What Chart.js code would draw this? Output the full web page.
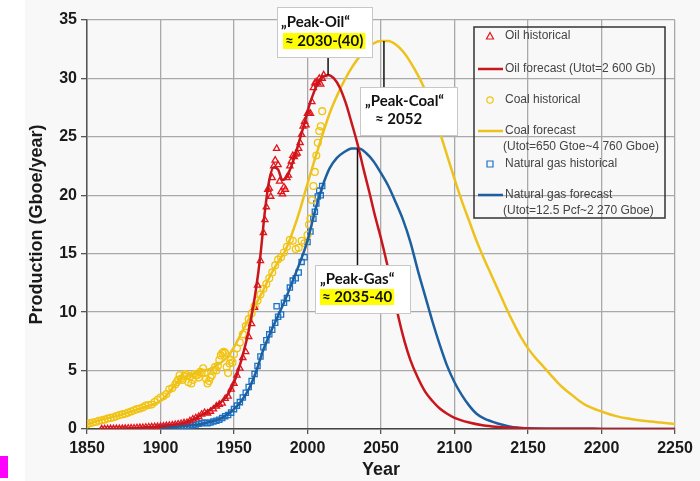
<!DOCTYPE html>
<html>
<head>
<meta charset="utf-8">
<script src="https://cdn.jsdelivr.net/npm/chart.js@4.4.1/dist/chart.umd.min.js"></script>
<style>
  body { margin: 0; background: #fff; }
  #wrap { position: relative; width: 700px; height: 481px; }
  #mark { position: absolute; left: 0; top: 456px; width: 8px; height: 22px; background: #ff00ff; }
</style>
</head>
<body>
<div id="wrap">
  <canvas id="chart" width="700" height="481"></canvas>
  <div id="mark"></div>
</div>
<script>
// historical production (Gboe/year)
const oilHistYears = [1860,1862,1864,1866,1868,1870,1872,1874,1876,1878,1880,1882,1884,1886,1888,1890,1892,1894,1896,1898,
  1900,1902,1904,1906,1908,1910,1912,1914,1916,1918,1920,1922,1924,1926,1928,1930,1932,1934,1936,1938,
  1940,1942,1944,1946,1948,1950,1952,1954,1956,1958,1960,1962,1964,1966,1968,1970,1971,1972,1973,1974,
  1975,1976,1977,1978,1979,1980,1981,1982,1983,1984,1985,1986,1987,1988,1989,1990,1991,1992,1993,1994,
  1995,1996,1997,1998,1999,2000,2001,2002,2003,2004,2005,2006,2007,2008,2009,2010,2011];
const oilHistValues = [0,0.01,0.01,0.02,0.02,0.03,0.03,0.04,0.05,0.06,0.07,0.08,0.1,0.11,0.12,0.14,0.16,0.17,0.19,0.2,
  0.22,0.25,0.28,0.3,0.34,0.38,0.42,0.46,0.52,0.55,0.7,0.85,0.95,1.05,1.25,1.4,1.35,1.5,1.7,1.95,
  2.1,2.2,2.6,2.8,3.4,3.9,4.6,5.2,6.1,6.6,7.9,9.0,10.4,12.3,14.4,16.8,17.9,19.0,20.5,20.6,
  19.9,21.5,22.5,23.0,24.0,22.6,21.2,20.3,20.1,20.7,20.5,21.5,21.7,22.5,22.9,23.4,23.3,23.5,23.6,24.0,
  24.5,25.2,25.9,26.3,26.0,27.0,27.0,27.0,28.0,29.2,29.6,29.7,29.6,30.0,29.5,30.0,30.3];

const coalHistYears = [1850,1852,1854,1856,1858,1860,1862,1864,1866,1868,1870,1872,1874,1876,1878,1880,1882,1884,1886,1888,
  1890,1892,1894,1896,1898,1900,1902,1904,1906,1908,1910,1911,1912,1913,1914,1915,1916,1917,1918,1919,
  1920,1921,1922,1923,1924,1925,1926,1927,1928,1929,1930,1931,1932,1933,1934,1935,1936,1937,1938,1939,
  1940,1941,1942,1943,1944,1945,1946,1947,1948,1949,1950,1952,1954,1956,1958,1960,1962,1964,1966,1968,
  1970,1972,1974,1976,1978,1980,1982,1984,1986,1988,1990,1992,1994,1996,1998,2000,2001,2002,2003,2004,
  2005,2006,2007,2008,2009,2010];
const coalHistValues = [0.4,0.5,0.55,0.6,0.7,0.75,0.8,0.9,0.95,1.0,1.1,1.2,1.25,1.3,1.4,1.5,1.6,1.7,1.75,1.85,
  2.0,2.05,2.1,2.3,2.5,2.7,2.8,3.0,3.4,3.5,3.8,4.0,4.2,4.6,4.3,4.2,4.5,4.7,4.6,4.0,
  4.5,3.9,4.2,4.7,4.6,4.6,4.4,4.9,4.8,5.2,4.8,4.3,3.9,4.1,4.4,4.6,5.0,5.3,5.0,5.4,
  5.9,6.3,6.5,6.6,6.5,5.3,4.8,5.6,5.9,5.7,6.4,6.9,7.4,8.1,8.8,9.4,9.9,10.5,11.0,11.5,
  12.0,12.4,12.9,13.4,14.0,14.5,14.7,15.1,15.6,16.2,16.1,15.4,15.5,16.1,15.9,16.6,17.5,18.0,19.6,20.8,
  22.0,23.4,24.5,25.5,25.9,27.2];

const gasHistYears = [1900,1902,1904,1906,1908,1910,1912,1914,1916,1918,1920,1922,1924,1926,1928,1930,1932,1934,1936,1938,
  1940,1942,1944,1946,1948,1950,1952,1954,1956,1958,1960,1962,1964,1966,1968,1970,1972,1974,1976,1978,
  1979,1980,1982,1984,1986,1988,1990,1992,1994,1996,1998,2000,2002,2004,2005,2006,2007,2008,2009,2010];
const gasHistValues = [0.1,0.1,0.12,0.14,0.16,0.18,0.2,0.22,0.25,0.27,0.3,0.33,0.38,0.45,0.5,0.55,0.5,0.55,0.65,0.7,
  0.8,0.95,1.1,1.2,1.4,1.7,2.0,2.3,2.7,3.1,3.6,4.1,4.7,5.4,6.2,7.0,7.6,8.1,8.5,9.1,
  10.5,9.6,9.8,10.8,11.2,12.1,12.7,12.9,13.4,14.3,14.7,16.0,16.9,18.0,18.6,19.3,19.9,20.4,20.0,20.8];

// fitted / forecast curves
const oilCurveYears = [1858,1870,1880,1890,1900,1910,1920,1930,1940,1945,1950,1955,1960,1965,1968,1971,1974,1977,1980,1983,
  1986,1989,1992,1995,1998,2001,2004,2007,2010,2014,2018,2022,2026,2030,2034,2038,2042,2046,2050,2054,
  2058,2062,2066,2070,2075,2080,2085,2090,2095,2100,2110,2120,2130,2140,2150,2175,2200,2250];
const oilCurveValues = [0,0.03,0.07,0.14,0.22,0.38,0.7,1.35,2.2,2.8,4.0,5.9,8.4,12.0,14.9,18.6,21.3,22.4,22.2,21.3,
  21.6,22.5,23.6,24.9,26.2,27.6,28.7,29.6,30.1,30.3,30.0,29.2,27.9,26.2,24.4,22.3,20.3,18.2,16.3,14.2,
  11.9,9.5,7.5,5.9,4.4,3.2,2.4,1.75,1.3,0.95,0.55,0.3,0.18,0.1,0.05,0.02,0.01,0];

const coalCurveYears = [1850,1860,1870,1880,1890,1900,1905,1910,1915,1920,1925,1930,1935,1940,1945,1950,1955,1960,1965,1970,
  1975,1980,1985,1990,1995,2000,2005,2010,2015,2020,2025,2030,2035,2040,2045,2050,2055,2060,2065,2070,
  2075,2080,2085,2090,2095,2100,2105,2110,2115,2120,2125,2130,2135,2140,2145,2150,2155,2160,2165,2170,
  2175,2180,2185,2190,2200,2210,2220,2230,2240,2250];
const coalCurveValues = [0.4,0.8,1.1,1.5,1.9,2.4,3.0,3.8,4.4,4.6,4.8,5.0,5.2,5.6,6.1,7.0,8.2,9.4,10.7,11.9,
  13.2,14.3,15.3,16.9,18.8,21.0,23.1,25.1,27.0,28.5,29.8,30.9,31.8,32.5,33.0,33.2,33.2,32.9,32.3,31.4,
  30.3,29.0,27.3,25.4,23.4,21.4,19.5,17.8,16.1,14.6,13.2,11.8,10.4,9.1,7.9,6.9,6.1,5.4,4.7,4.0,
  3.4,2.9,2.4,2.0,1.5,1.1,0.85,0.68,0.55,0.43];

const gasCurveYears = [1900,1910,1920,1930,1940,1945,1950,1955,1960,1965,1970,1975,1980,1985,1990,1995,2000,2005,2010,2015,
  2020,2025,2030,2035,2040,2045,2050,2055,2060,2065,2070,2075,2080,2085,2090,2095,2100,2105,2110,2115,
  2120,2130,2140,2150,2175,2200,2250];
const gasCurveValues = [0.1,0.18,0.3,0.5,0.85,1.2,1.7,2.4,3.4,4.9,6.8,8.3,9.7,11.1,12.7,14.3,16.1,18.6,20.7,22.3,
  23.2,23.7,24.0,24.0,23.6,22.9,21.9,20.8,19.4,17.9,16.0,13.6,11.4,9.2,7.2,5.4,4.0,2.9,2.0,1.3,
  0.9,0.45,0.16,0.06,0.02,0.01,0];

const xTicks = [1850, 1900, 1950, 2000, 2050, 2100, 2150, 2200, 2250];
const yTicks = [0, 5, 10, 15, 20, 25, 30, 35];

// peak callouts
const peakNames = ['„Peak-Oil“', '„Peak-Coal“', '„Peak-Gas“'];
const peakTexts = ['≈ 2030-(40)', '≈ 2052', '≈ 2035-40'];
const peakYears = [2014, 2052, 2034];
const peakValues = [30.3, 33.2, 24.0];

const toPoints = (xs, ys) => xs.map((x, i) => ({ x: x, y: ys[i] }));

const RED = '#e3151c', RED_LINE = '#c8161d';
const YEL = '#f2c40f', YEL_LINE = '#eec21c';
const BLU = '#1b72c6', BLU_LINE = '#1d5f9f';

// callout boxes, in canvas pixels
const boxes = [
  { x: 277, y: 7, w: 95, h: 50, l1: 4, l2: 8, y1: 22, y2: 41, hl: true },
  { x: 360, y: 87, w: 97, h: 48, l1: 5, l2: 15, y1: 101, y2: 119, hl: false },
  { x: 315, y: 265, w: 95, h: 48, l1: 5, l2: 7, y1: 279, y2: 297, hl: true }
];

const legendRows = [
  { ds: 0, kind: 'marker', y: 36 },
  { ds: 1, kind: 'line', y: 69 },
  { ds: 2, kind: 'marker', y: 100 },
  { ds: 3, kind: 'line', y: 131 },
  { ds: 4, kind: 'marker', y: 164 },
  { ds: 5, kind: 'line', y: 195 }
];

const bgPlugin = {
  id: 'bg',
  beforeDraw(chart) {
    const ctx = chart.ctx;
    ctx.save();
    ctx.fillStyle = '#f8f8f8';
    ctx.fillRect(25, 0, chart.width - 25, chart.height);
    ctx.restore();
  }
};

const calloutPlugin = {
  id: 'callouts',
  afterDraw(chart) {
    const ctx = chart.ctx;
    const xs = chart.scales.x, ys = chart.scales.y;
    ctx.save();
    boxes.forEach((b, i) => {
      const px = xs.getPixelForValue(peakYears[i]);
      const py = ys.getPixelForValue(peakValues[i]);
      ctx.strokeStyle = '#111';
      ctx.lineWidth = 1.5;
      ctx.beginPath();
      ctx.moveTo(px, py);
      ctx.lineTo(px, py < b.y ? b.y : b.y + b.h);
      ctx.stroke();
      ctx.fillStyle = '#fff';
      ctx.fillRect(b.x, b.y, b.w, b.h);
      ctx.strokeStyle = '#c8c8c8';
      ctx.lineWidth = 1;
      ctx.strokeRect(b.x + 0.5, b.y + 0.5, b.w, b.h);
      ctx.font = 'bold 15px Lato, "Open Sans", sans-serif';
      ctx.textBaseline = 'middle';
      ctx.textAlign = 'left';
      if (b.hl) {
        const w = ctx.measureText(peakTexts[i]).width;
        ctx.fillStyle = '#ffff00';
        ctx.fillRect(b.x + b.l2 - 2, b.y2 - 8, w + 4, 16);
      }
      ctx.fillStyle = '#111';
      ctx.fillText(peakNames[i], b.x + b.l1, b.y1);
      ctx.fillText(peakTexts[i], b.x + b.l2, b.y2);
    });

    // legend
    const lg = { x: 474, y: 27, w: 191, h: 191 };
    ctx.strokeStyle = '#333';
    ctx.lineWidth = 1.5;
    ctx.strokeRect(lg.x, lg.y, lg.w, lg.h);
    ctx.font = '12px "Liberation Sans", Arial, sans-serif';
    ctx.textBaseline = 'middle';
    legendRows.forEach(r => {
      const ds = chart.data.datasets[r.ds];
      if (r.kind === 'line') {
        ctx.strokeStyle = ds.borderColor;
        ctx.lineWidth = 2.5;
        ctx.beginPath();
        ctx.moveTo(478, r.y);
        ctx.lineTo(503, r.y);
        ctx.stroke();
      } else {
        ctx.strokeStyle = ds.borderColor;
        ctx.lineWidth = 1.2;
        ctx.beginPath();
        if (ds.pointStyle === 'triangle') {
          ctx.moveTo(490, r.y - 3.5); ctx.lineTo(493.5, r.y + 3); ctx.lineTo(486.5, r.y + 3); ctx.closePath();
        } else if (ds.pointStyle === 'circle') {
          ctx.arc(490, r.y, 3.2, 0, Math.PI * 2);
        } else {
          ctx.rect(487, r.y - 3, 6, 6);
        }
        ctx.stroke();
      }
      ctx.fillStyle = '#444';
      const parts = ds.label.split('\n');
      parts.forEach((t, k) => {
        ctx.fillText(t, k === 0 ? 505 : 503, r.y + k * 15.5);
      });
    });
    ctx.restore();
  }
};

const histStyle = (color, style, r) => ({
  showLine: false,
  pointStyle: style,
  pointRadius: r,
  pointBorderWidth: 1.3,
  borderColor: color,
  backgroundColor: 'rgba(0,0,0,0)',
  pointBackgroundColor: 'rgba(0,0,0,0)',
  order: 2
});
const curveStyle = (color) => ({
  showLine: true,
  pointRadius: 0,
  borderColor: color,
  backgroundColor: color,
  borderWidth: 2.5,
  cubicInterpolationMode: 'monotone',
  order: 1
});

new Chart(document.getElementById('chart'), {
  type: 'scatter',
  data: {
    datasets: [
      Object.assign({ label: 'Oil historical', data: toPoints(oilHistYears, oilHistValues) }, histStyle(RED, 'triangle', 3.6)),
      Object.assign({ label: 'Oil forecast (Utot=2 600 Gb)', data: toPoints(oilCurveYears, oilCurveValues) }, curveStyle(RED_LINE)),
      Object.assign({ label: 'Coal historical', data: toPoints(coalHistYears, coalHistValues) }, histStyle(YEL, 'circle', 3.4)),
      Object.assign({ label: 'Coal forecast\n(Utot=650 Gtoe~4 760 Gboe)', data: toPoints(coalCurveYears, coalCurveValues) }, curveStyle(YEL_LINE)),
      Object.assign({ label: 'Natural gas historical', data: toPoints(gasHistYears, gasHistValues) }, histStyle(BLU, 'rect', 3.7)),
      Object.assign({ label: 'Natural gas forecast\n(Utot=12.5 Pcf~2 270 Gboe)', data: toPoints(gasCurveYears, gasCurveValues) }, curveStyle(BLU_LINE))
    ]
  },
  options: {
    responsive: false,
    animation: false,
    layout: { padding: { left: 22, top: 20, right: 25, bottom: 0 } },
    plugins: {
      legend: { display: false },
      tooltip: { enabled: false }
    },
    scales: {
      x: {
        type: 'linear',
        min: 1850,
        max: 2250,
        afterBuildTicks: (scale) => { scale.ticks = xTicks.map(v => ({ value: v })); },
        afterFit: (scale) => { scale.height = 52; },
        grid: { color: '#a9a9a9', lineWidth: 1.3, tickLength: 5, tickColor: '#555' },
        border: { color: '#444', width: 1.5 },
        ticks: {
          color: '#1a1a1a',
          padding: 5,
          maxRotation: 0,
          callback: (v) => String(v),
          font: { family: '"Liberation Sans", Arial, sans-serif', size: 16, weight: 'bold' }
        },
        title: {
          display: true,
          text: 'Year',
          color: '#1a1a1a',
          padding: { top: 0, bottom: 0 },
          font: { family: '"Liberation Sans", Arial, sans-serif', size: 18, weight: 'bold' }
        }
      },
      y: {
        type: 'linear',
        min: 0,
        max: 35,
        afterBuildTicks: (scale) => { scale.ticks = yTicks.map(v => ({ value: v })); },
        afterFit: (scale) => { scale.width = 65; },
        grid: { color: '#a9a9a9', lineWidth: 1.3, tickLength: 6, tickColor: '#555' },
        border: { color: '#555', width: 1.5 },
        ticks: {
          color: '#1a1a1a',
          padding: 4,
          callback: (v) => String(v),
          font: { family: '"Liberation Sans", Arial, sans-serif', size: 16, weight: 'bold' }
        },
        title: {
          display: true,
          text: 'Production (Gboe/year)',
          color: '#1a1a1a',
          padding: { top: 4, bottom: 0 },
          font: { family: '"Liberation Sans", Arial, sans-serif', size: 18, weight: 'bold' }
        }
      }
    }
  },
  plugins: [bgPlugin, calloutPlugin]
});
</script>
</body>
</html>
